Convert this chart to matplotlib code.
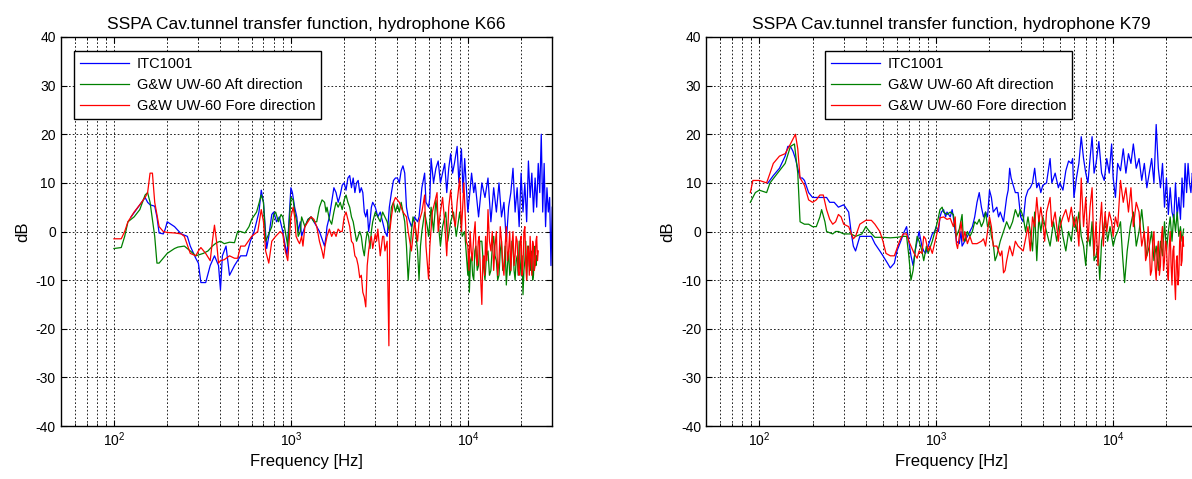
import numpy as np
import matplotlib
matplotlib.use("Agg")
import matplotlib.pyplot as plt
from matplotlib.ticker import LogLocator, FixedLocator

plt.rcParams['font.family'] = ['Liberation Sans', 'DejaVu Sans']
plt.rcParams['mathtext.default'] = 'regular'
plt.rcParams['axes.unicode_minus'] = False

titles = ["SSPA Cav.tunnel transfer function, hydrophone K66",
          "SSPA Cav.tunnel transfer function, hydrophone K79"]
labels = ["ITC1001", "G&W UW-60 Aft direction", "G&W UW-60 Fore direction"]
colors = ["#0000ff", "#008000", "#ff0000"]
yticks = [-40, -30, -20, -10, 0, 10, 20, 30, 40]

# (frequency Hz, dB)
k66_itc = [
    (125, 3), (140, 5.5), (150, 7), (155, 6), (160, 5.5), (170, 5.2), (175, 3), (180, -0.3),
    (190, -0.5), (195, 0.5), (200, 2), (210, 1.5), (220, 1), (240, -0.5), (260, -1), (270, -3),
    (290, -5.5), (300, -6.5), (310, -10.5), (330, -10.5), (350, -7), (370, -5), (390, -7),
    (400, -12), (410, -5), (430, -3), (450, -9), (480, -7), (520, -5), (560, -5), (590, -2),
    (620, 0), (660, 4), (680, 8.5), (700, 6), (730, -3.5), (750, -1), (780, 3.5), (800, 4),
    (830, 2), (860, 3), (900, 0), (950, -5), (1000, 9), (1020, 8), (1050, 5), (1080, 3),
    (1100, 0), (1130, 2), (1150, -1), (1200, 1), (1250, 2.5), (1300, 3), (1350, 2), (1400, 1),
    (1450, 0), (1500, -1.5), (1550, -3), (1580, -1), (1600, 1), (1650, 3), (1700, 6), (1750, 9),
    (1800, 8), (1850, 6), (1900, 7.5), (1950, 9.5), (2000, 10), (2050, 8.5), (2100, 11),
    (2150, 11.5), (2200, 9), (2250, 11), (2300, 8), (2350, 10), (2400, 10.5), (2450, 8),
    (2500, 9), (2550, 8), (2600, 4), (2650, 3), (2700, 4.5), (2750, 0), (2800, 2), (2850, 5),
    (2900, 6), (3000, 5), (3100, 3), (3200, 4), (3300, 2), (3400, 0), (3500, -1), (3600, 5),
    (3700, 8), (3800, 10.5), (3900, 11), (4000, 11), (4100, 10), (4200, 12.5), (4300, 13.5),
    (4400, 12), (4500, 5), (4600, 3), (4800, 1), (5000, 3), (5200, 2), (5300, 3), (5500, 9),
    (5700, 12), (5800, 6), (6000, 5), (6100, 7), (6200, 15), (6400, 10), (6600, 13),
    (6800, 14.5), (7000, 10), (7200, 12), (7400, 14), (7600, 8), (7800, 13), (8000, 16),
    (8200, 12), (8400, 14), (8700, 17.5), (8900, 10), (9200, 17), (9400, 8), (9600, 15),
    (10000, 4), (10200, 7), (10500, 12), (10800, 8), (11000, 10), (11500, 3), (12000, 10),
    (12500, 7), (13000, 11), (13500, 2), (14000, 9), (14500, 4), (15000, 10), (15500, 3),
    (16000, 6), (16500, -2), (17000, 5), (17500, 8), (18000, 13), (18500, 4), (19000, 9),
    (19500, 1), (20000, 12), (20500, 4), (21000, 10), (21500, 2), (22000, 14.5), (22500, 7),
    (23000, 12), (23500, 4), (24000, 11), (24500, 5), (25000, 14), (25500, 8), (26000, 20),
    (26500, 4), (27000, 14), (27500, 1), (28000, 9), (28500, 4), (29000, 7), (29500, -7),
    (30000, 5)]

k66_aft = [
    (100, -3.5), (110, -3.3), (115, -1), (120, 2), (130, 3), (140, 4.5), (150, 7.5), (155, 8),
    (160, 6), (170, -1), (175, -6.5), (180, -6.5), (200, -4.5), (220, -3.5), (230, -3.2),
    (250, -3), (270, -4), (290, -5), (320, -4.5), (340, -4), (360, -3), (380, -2.3), (400, -2),
    (420, -2.5), (450, -2.2), (480, -2.3), (500, 0), (520, 0), (550, -0.3), (580, 1),
    (600, 2.5), (640, 4), (680, 7.5), (700, 6), (720, -2), (750, -0.5), (780, 1), (800, 3.5),
    (820, 4), (850, 2), (880, 3.5), (900, 3), (930, 0), (960, -3), (1000, 7), (1030, 6.5),
    (1050, 4), (1080, 2), (1100, -1), (1130, 0), (1150, 3), (1200, 1), (1250, 2.5), (1300, 3),
    (1350, 2), (1400, 2), (1450, 5), (1500, 6.5), (1550, 6), (1580, 4), (1600, 5), (1650, 2.5),
    (1700, 1.5), (1750, 4), (1800, 6), (1850, 5), (1900, 6), (1950, 4.5), (2000, 6.5),
    (2050, 7.5), (2100, 6), (2150, 5), (2200, 3), (2250, 2), (2300, 0), (2350, -2), (2400, -1),
    (2450, 0), (2500, -1), (2550, -3.5), (2600, -5), (2650, -2), (2700, 0), (2750, -1),
    (2800, -3.5), (2850, 0), (2900, 2), (3000, 4), (3100, 3), (3200, 2), (3300, 4), (3400, 3),
    (3500, 2), (3600, 0), (3700, 5), (3800, 6), (3900, 4), (4000, 5.5), (4100, 4), (4200, 6),
    (4300, 4), (4400, 2), (4500, -3), (4600, -10), (4700, -5), (4800, 0), (4900, 3), (5000, 2),
    (5200, -4), (5300, -10), (5400, -3), (5500, 0), (5700, 4), (5900, 1), (6000, -1),
    (6200, 5), (6400, 0), (6600, 6.5), (6800, 2), (7000, -3), (7200, 1), (7500, 4), (7700, -2),
    (8000, 2), (8300, 4), (8600, -1), (9000, 4), (9300, -1), (9600, 0), (10000, -9),
    (10100, -4), (10200, -12.5), (10350, -6), (10500, -5), (10650, -9), (10800, -10),
    (10950, -4), (11100, -3), (11300, -8), (11500, -7), (11700, -2), (12000, -2), (12250, -7),
    (12500, -10), (12750, -5), (13000, -4), (13250, -9), (13500, -8), (13750, -3), (14000, -1),
    (14250, -5), (14500, -6), (14750, -10), (15000, -9), (15250, -4), (15500, -2), (15750, -8),
    (16000, -7), (16250, -3), (16500, -11), (16750, -7), (17000, -4), (17250, -9), (17500, -8),
    (17750, -2), (18000, -3), (18250, -8), (18500, -10), (18750, -6), (19000, -5), (19250, -9),
    (19500, -2), (19750, -6), (20000, -9), (20250, -5), (20500, -13), (20750, -8), (21000, -6),
    (21250, -2), (21500, -10), (21750, -5), (22000, -3), (22250, -7), (22500, -8), (22750, -4),
    (23000, -5), (23250, -10), (23500, -9), (23750, -4), (24000, -3), (24250, -7), (24500, -5)]

k66_fore = [
    (100, -1.5), (110, -1.5), (115, 0), (120, 2), (130, 4), (140, 5.5), (150, 7), (155, 8),
    (160, 12), (165, 12), (170, 6), (180, 1), (190, 0), (200, -0.2), (220, -0.3), (240, -0.5),
    (250, -1), (270, -4.5), (290, -5), (300, -4), (310, -3.3), (330, -4.5), (350, -6),
    (360, -2), (370, 1.3), (380, -2), (390, -6.5), (400, -6), (420, -5.8), (450, -5),
    (480, -5.5), (500, -5.5), (520, -3), (550, -3), (600, -1), (650, 0), (680, 4.5), (700, 2),
    (720, -4), (750, -6.5), (780, -2), (820, -1), (870, 0), (900, -0.5), (930, -4), (960, -6),
    (1000, 3), (1030, 5), (1050, 3), (1070, -1), (1100, -2), (1120, -2.5), (1150, -1),
    (1170, -3), (1200, 1), (1250, 2), (1300, 3), (1350, 2.5), (1400, 1), (1450, -2),
    (1500, -4), (1530, -5.5), (1560, -3), (1600, -1), (1650, 0.5), (1700, -1), (1750, 0),
    (1800, -1), (1850, 0.5), (1900, 0), (1950, 0), (2000, 3), (2050, 4), (2100, 2.5),
    (2150, 1), (2200, -2), (2250, -2.5), (2300, -5), (2350, -5.5), (2400, -7), (2450, -9.5),
    (2500, -9), (2550, -12.5), (2600, -13.5), (2650, -15.5), (2700, -7), (2750, -4),
    (2800, -2), (2850, -1), (2900, -3.5), (2950, -2), (3000, -0.5), (3050, -2), (3100, 0.5),
    (3200, -5), (3300, -1), (3350, -1), (3400, -4), (3500, -2), (3580, -23.5), (3620, 0),
    (3700, 3), (3800, 6), (3900, 7), (4000, 6.5), (4100, 6), (4200, 5), (4300, 4), (4500, 3),
    (4600, 0), (4800, -4), (5000, 2), (5200, -2), (5300, 2), (5500, 4), (5700, 7.5),
    (5800, -3), (6000, -9.8), (6100, -3), (6300, 4), (6500, 6), (6700, 8), (6800, 0),
    (7000, 4), (7200, 7), (7400, 2), (7600, -5), (7800, 5), (8000, 8.5), (8200, 4), (8500, 1),
    (8700, 6), (9000, 11), (9200, 0), (9500, 10), (9800, -2), (10000, -3), (10150, -8),
    (10300, 0), (10450, -4), (10600, -6), (10800, -1), (11000, 2), (11150, -5), (11300, -7),
    (11450, -2), (11600, -1), (11800, -9), (12000, -15), (12150, -6), (12300, -5),
    (12450, -9), (12600, -1), (12800, -6), (13000, 4.5), (13250, -2), (13500, -4), (13750, 0),
    (14000, -8), (14250, -3), (14500, 0), (14750, -9), (15000, -6), (15250, 1), (15500, -2),
    (15750, -7), (16000, -9), (16250, -3), (16500, 1), (16750, -6), (17000, -4), (17250, 0),
    (17500, -8), (17750, -3), (18000, 0), (18250, -7), (18500, -5), (18750, -1), (19000, -2),
    (19250, -8), (19500, -9), (19750, -2), (20000, -1), (20250, -9), (20500, -7), (20750, 0),
    (21000, 1), (21250, -6), (21500, -10), (21750, -3), (22000, -4), (22250, -9), (22500, -1),
    (22750, -5), (23000, -9), (23250, -2), (23500, -3), (23750, -8), (24000, -7), (24250, -2),
    (24500, -1), (24750, -6), (25000, -4)]

k79_itc = [
    (112, 10), (120, 11.5), (130, 13), (140, 15.5), (145, 17.5), (150, 17.5), (155, 16.5),
    (160, 15), (170, 11), (175, 11), (180, 10.5), (190, 8), (200, 7), (220, 7), (240, 7),
    (250, 6), (265, 6), (280, 5), (300, 5.5), (320, 4), (330, 0), (340, -3), (350, -4),
    (370, -1), (400, -1), (430, -1), (450, -2.5), (480, -4), (500, -5), (530, -6.5),
    (550, -7.5), (580, -6.5), (600, -4), (630, -2), (660, 0), (680, 1), (700, -2), (720, -5),
    (740, -7), (760, -4), (780, -2), (800, 0), (830, -3), (850, -4), (870, -4.5), (900, -3),
    (950, -0.5), (980, 0), (1000, 1), (1030, 0), (1050, 3), (1070, 4), (1100, 4.5), (1130, 3),
    (1150, 4), (1200, 3), (1230, 4.5), (1260, 2), (1300, -2), (1350, -2.5), (1380, 0),
    (1400, -3), (1450, -2), (1500, -1), (1550, 0), (1600, 1), (1650, 3), (1700, 6), (1750, 8),
    (1800, 5), (1850, 3), (1900, 4), (1950, 3), (2000, 8.5), (2050, 7), (2100, 4), (2200, 5),
    (2250, 3), (2300, 4), (2400, 2), (2500, 7), (2550, 8.5), (2600, 13), (2650, 11),
    (2700, 10), (2800, 8), (2900, 8), (3000, 3), (3100, 2), (3200, 7), (3300, 8.5), (3400, 9),
    (3500, 10), (3600, 13), (3700, 9), (3800, 10), (3900, 8), (4000, 9.5), (4200, 10),
    (4400, 15), (4500, 10), (4700, 12), (4900, 9), (5000, 10), (5200, 8.5), (5400, 12.5),
    (5600, 14.5), (5800, 14), (5900, 15), (6000, 7), (6200, 11), (6400, 14), (6600, 19.5),
    (6800, 15), (7000, 12), (7200, 10), (7400, 15), (7600, 19.5), (7800, 12), (8000, 14),
    (8300, 18.5), (8600, 12), (8900, 10.5), (9200, 15), (9500, 12), (9800, 18), (10000, 11),
    (10300, 7), (10600, 14), (11000, 12.5), (11400, 17), (11800, 12), (12200, 16),
    (12600, 14), (13000, 18), (13500, 13), (14000, 15), (14500, 10.5), (15000, 14),
    (15500, 9), (16000, 12), (16500, 15), (17000, 10), (17500, 22), (18000, 13), (18500, 9),
    (19000, 14), (19500, 5), (20000, 11), (20500, 3.5), (21000, 9), (21500, 4), (22000, 2.5),
    (22500, 10), (23000, 3), (23500, 7), (24000, 2.5), (24500, 11), (25000, 5), (25500, 14),
    (26000, 8), (26500, 14), (27000, 10), (27500, 8), (28000, 12), (29000, 9), (30000, 11)]

k79_aft = [
    (89, 6), (95, 8), (100, 8.5), (110, 8), (115, 10), (130, 12.5), (140, 14), (150, 17.5),
    (158, 18), (165, 12), (170, 2), (180, 1.5), (190, 1.5), (200, 1), (210, 1), (220, 3),
    (225, 4.5), (235, 2), (240, 0), (260, -0.5), (270, 0), (280, 0), (300, -0.5), (330, -0.5),
    (350, -1), (380, -0.5), (400, 1), (420, 0), (450, -1.2), (500, -1.2), (550, -1.3),
    (600, -1.2), (650, -1), (680, -1), (700, -5), (720, -10), (740, -8), (760, -4), (780, -1),
    (800, -2), (830, -4), (850, -6), (880, -3), (900, -4.5), (950, -2), (1000, 1), (1030, 3),
    (1050, 4.5), (1080, 5), (1100, 4), (1150, 3.5), (1200, 4), (1250, 3.5), (1300, -1),
    (1350, 0.5), (1400, 3.5), (1420, -1), (1450, -2), (1500, 0), (1550, -1), (1600, 0),
    (1650, 2), (1700, 1.5), (1750, 2.5), (1800, 1), (1850, 2), (1900, 4), (1950, 1),
    (2000, 2), (2050, -1), (2100, -2.5), (2150, -6), (2200, -5), (2300, -2), (2400, 0),
    (2500, 2), (2600, 0.5), (2700, 2), (2800, 4.5), (2900, 3), (3000, 4.5), (3100, 3),
    (3200, 0), (3300, 3), (3400, 0), (3500, -4), (3600, 4), (3700, -6), (3800, 3), (3900, 0),
    (4000, 3), (4200, 0), (4400, -3), (4600, 2), (4800, -2), (5000, 3), (5200, -1), (5400, -4),
    (5600, 0), (5800, -2), (6000, 3), (6200, 0), (6400, 4), (6600, -1), (6800, -3), (7000, -7),
    (7200, 0), (7400, -3), (7600, 2), (7800, -6), (8000, -5), (8200, -3), (8400, -10),
    (8600, -2), (8800, 0), (9000, 3), (9300, -2), (9600, 1), (10000, -3), (10300, -1),
    (10600, 0), (11000, 2), (11300, -5), (11600, -10.5), (12000, -4), (12500, 1), (13000, 4),
    (13500, -3), (14000, 0), (14500, 4.5), (15000, -1), (15500, -5), (16000, -3), (16500, 0),
    (17000, -6), (17500, -3), (18000, -8), (18500, -2), (19000, -5), (19500, 2), (20000, -4),
    (20500, 0), (21000, 3), (21500, -2), (22000, 3.5), (22500, 0), (23000, 4), (23500, -1),
    (24000, 1), (24500, -2), (25000, 0.5)]

k79_fore = [
    (89, 8), (92, 10.5), (100, 10.5), (110, 10), (115, 12), (120, 14), (130, 15.5), (140, 16),
    (150, 18), (155, 19), (160, 20), (165, 17), (170, 11), (180, 9.5), (190, 6.5), (200, 6),
    (210, 6.5), (220, 7.5), (230, 7.5), (240, 4.5), (250, 2.5), (260, 1.5), (270, 2),
    (280, 3.5), (290, 3), (300, 1.5), (320, 1), (340, -1.5), (350, -1), (370, 1.5), (400, 2.3),
    (430, 2.3), (450, 1.5), (480, 0), (500, -2), (520, -4.5), (550, -5), (580, -5), (620, -2),
    (650, -0.5), (680, -0.5), (700, -2), (720, -3), (750, -4.5), (780, -5.5), (800, -4),
    (830, -4.5), (850, -1), (870, -1.5), (900, -4), (920, -3), (950, -4.5), (1000, -1),
    (1030, 1), (1050, 2.8), (1100, 3), (1150, 2.5), (1200, 2.7), (1250, 1), (1280, 3),
    (1300, -2.5), (1320, -3.5), (1350, -1), (1380, 2), (1420, -2), (1450, 0), (1500, -2.5),
    (1550, -1), (1600, -2.5), (1700, -2.5), (1800, -2), (1850, -1.5), (1900, -3), (1950, 0),
    (2000, 3), (2050, 1), (2100, -3), (2200, -3), (2300, -5), (2350, -4), (2400, -8.5),
    (2450, -8), (2500, -6), (2600, -3), (2700, -5), (2800, -2), (2900, -3), (3000, -3.5),
    (3100, -4), (3200, -1.5), (3300, 1), (3400, -4), (3500, 3), (3600, 1), (3700, 7),
    (3800, 2), (3900, 5), (4000, 2), (4100, -2), (4200, 4), (4400, 7), (4500, 1), (4700, 4),
    (4900, -2), (5000, 1), (5200, 3), (5400, 4.5), (5600, 2), (5800, 5), (6000, 1), (6200, 3),
    (6400, -3), (6600, 11), (6800, 1), (7000, 7), (7200, -2), (7400, 5), (7600, 9), (7800, -5),
    (8000, 2), (8200, -7), (8400, 1), (8600, 6), (8800, -3), (9000, 4), (9200, 0), (9500, 4),
    (9800, 2), (10000, -1), (10300, 3), (10600, 1), (11000, 10.5), (11400, 6), (11800, 9),
    (12200, 4), (12600, 9), (13000, 1), (13500, 6), (14000, 4), (14500, -3), (15000, 0),
    (15250, -6), (15500, -5), (15750, 1), (16000, -3), (16250, -9), (16500, -8), (16750, -2),
    (17000, 0), (17250, -7), (17500, -10), (17750, -4), (18000, -2), (18250, -9), (18500, -7),
    (18750, -1), (19000, 1), (19250, -8), (19500, -6), (19750, -2), (20000, -3), (20250, -8),
    (20500, -10), (20750, -3), (21000, 0), (21250, -7), (21500, -11), (21750, -4), (22000, -3),
    (22250, -10), (22500, -14), (22750, -6), (23000, -5), (23250, -11), (23500, -9),
    (23750, -2), (24000, 0), (24250, -7), (24500, -6), (24750, -1), (25000, -3)]

panels = [[k66_itc, k66_aft, k66_fore], [k79_itc, k79_aft, k79_fore]]

fig = plt.figure(figsize=(11.92, 4.79), dpi=100)
axes_pos = [[0.0509, 0.1106, 0.4124, 0.8122], [0.5923, 0.1106, 0.4124, 0.8122]]
legend_anchor = [(0.0621, 0.8935), (0.6921, 0.8935)]

for i in range(2):
    ax = fig.add_axes(axes_pos[i])
    for series, c, lab in zip(panels[i], colors, labels):
        d = np.array(series, dtype=float)
        ax.plot(d[:, 0], d[:, 1], color=c, lw=0.9, label=lab)
    ax.set_xscale('log')
    ax.set_xlim(50, 30000)
    ax.set_ylim(-40, 40)
    ax.yaxis.set_major_locator(FixedLocator(yticks))
    ax.xaxis.set_major_locator(LogLocator(base=10, numticks=10))
    ax.xaxis.set_minor_locator(LogLocator(base=10, subs=np.arange(2, 10), numticks=20))
    ax.grid(True, which='major', color='black', linestyle=(0, (2, 2.5)), lw=0.6)
    ax.grid(True, which='minor', axis='x', color='black', linestyle=(0, (2, 2.5)), lw=0.6)
    ax.tick_params(which='both', direction='in', top=True, right=True, labelsize=10)
    ax.tick_params(which='major', length=4)
    ax.tick_params(which='minor', length=2)
    for s in ax.spines.values():
        s.set_linewidth(1.0)
    ax.set_title(titles[i], fontsize=12.5, pad=6)
    ax.set_xlabel("Frequency [Hz]", fontsize=12, labelpad=3)
    ax.set_ylabel("dB", fontsize=12)
    leg = ax.legend(loc='upper left', bbox_to_anchor=legend_anchor[i],
                    bbox_transform=fig.transFigure, borderaxespad=0, fontsize=10.5,
                    frameon=True, fancybox=False, framealpha=1, edgecolor='black',
                    handlelength=3.4, handletextpad=0.5, labelspacing=0.5, borderpad=0.4)
    leg.get_frame().set_linewidth(1.0)

fig.savefig("out.png", dpi=100)
